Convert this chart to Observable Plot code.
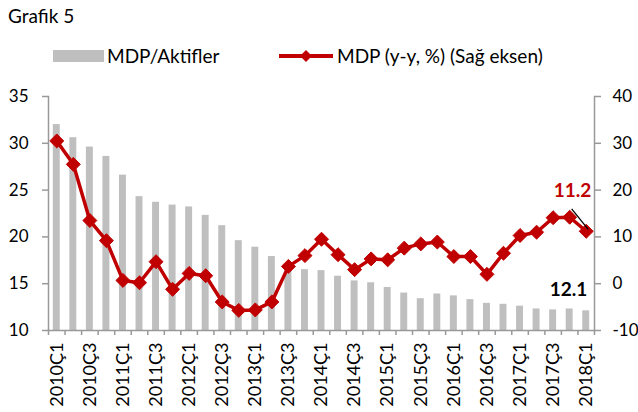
<!DOCTYPE html>
<html>
<head>
<meta charset="utf-8">
<script src="https://cdn.jsdelivr.net/npm/d3@7"></script>
<script src="https://cdn.jsdelivr.net/npm/@observablehq/plot@0.6"></script>
<style>
  body { margin: 0; background: #fff; font-family: Lato, "Open Sans", sans-serif; color: #000; }
  #wrap { position: relative; width: 638px; height: 412px; overflow: hidden; background: #fff; }
  #title { position: absolute; left: 8px; top: 4px; font-size: 19px; line-height: 24px; }
  #legend { position: absolute; left: 0; top: 44px; width: 638px; height: 26px; font-size: 19px; }
  .sw { position: absolute; }
  .lt { position: absolute; top: 0; line-height: 24px; white-space: nowrap; }
  #chart { position: absolute; left: 0; top: 76px; }
</style>
</head>
<body>
<div id="wrap">
  <div id="title">Grafik 5</div>
  <div id="legend"></div>
  <div id="chart"></div>
</div>
<script>
// ---- data ----
const quarters = [
  "2010Ç1","2010Ç2","2010Ç3","2010Ç4",
  "2011Ç1","2011Ç2","2011Ç3","2011Ç4",
  "2012Ç1","2012Ç2","2012Ç3","2012Ç4",
  "2013Ç1","2013Ç2","2013Ç3","2013Ç4",
  "2014Ç1","2014Ç2","2014Ç3","2014Ç4",
  "2015Ç1","2015Ç2","2015Ç3","2015Ç4",
  "2016Ç1","2016Ç2","2016Ç3","2016Ç4",
  "2017Ç1","2017Ç2","2017Ç3","2017Ç4",
  "2018Ç1"
];
// MDP/Aktifler (left axis)
const ratio = [
  32.0, 30.6, 29.6, 28.6,
  26.6, 24.3, 23.7, 23.4,
  23.2, 22.3, 21.2, 19.6,
  18.9, 17.9, 17.0, 16.5,
  16.4, 15.8, 15.3, 15.1,
  14.6, 14.0, 13.4, 13.9,
  13.7, 13.3, 12.9, 12.8,
  12.6, 12.3, 12.2, 12.3,
  12.1
];
// MDP (y-y, %) (right axis)
const growth = [
  30.5, 25.5, 13.5, 9.2,
  0.7, 0.2, 4.7, -1.2,
  2.2, 1.7, -3.9, -5.7,
  -5.6, -3.9, 3.7, 6.0,
  9.5, 6.2, 3.0, 5.3,
  5.1, 7.6, 8.5, 8.9,
  5.8, 5.8, 2.0, 6.5,
  10.3, 11.0, 14.1, 14.2,
  11.2
];
const leftTicks = [10, 15, 20, 25, 30, 35];
const rightTicks = [-10, 0, 10, 20, 30, 40];
const xLabels = quarters.filter((d, i) => i % 2 === 0);
const seriesNames = ["MDP/Aktifler", "MDP (y-y, %) (Sağ eksen)"];
const lastRatioLabel = "12.1";
const lastGrowthLabel = "11.2";

// ---- colours ----
const barColor = "#BFBFBF";
const lineColor = "#C00000";
const axisColor = "#999999";

// ---- legend (HTML) ----
const legend = document.getElementById("legend");
legend.innerHTML = `
  <div class="sw" style="left:53px;top:6px;width:51px;height:12px;background:${barColor}"></div>
  <div class="lt" style="left:107px">${seriesNames[0]}</div>
  <svg class="sw" style="left:278px;top:4px" width="57" height="16">
    <line x1="1" y1="8" x2="55" y2="8" stroke="${lineColor}" stroke-width="4"/>
    <path d="M28,2 L34,8 L28,14 L22,8 Z" fill="${lineColor}"/>
  </svg>
  <div class="lt" style="left:337px">${seriesNames[1]}</div>`;

// ---- chart ----
const data = quarters.map((q, i) => ({q, ratio: ratio[i], growth: growth[i]}));
const toLeft = v => 15 + v / 2; // right axis [-10,40] -> left axis [10,35]
const W = 638, H = 336, mL = 48, mR = 44;
const step = (W - mL - mR) / quarters.length;
const last = data[data.length - 1];
const prev = data[data.length - 2];

const chart = Plot.plot({
  width: W,
  height: H,
  marginTop: 20,
  marginBottom: 82,
  marginLeft: mL,
  marginRight: mR,
  style: {fontFamily: "Lato, 'Open Sans', sans-serif", fontSize: "17px", color: "#000", background: "#fff", overflow: "visible"},
  x: {domain: quarters, paddingInner: 0.58, paddingOuter: 0.29, round: false, axis: null, label: null},
  y: {domain: [10, 35], axis: null, label: null},
  marks: [
    Plot.barY(data, {x: "q", y1: 10, y2: "ratio", fill: barColor}),
    Plot.frame({anchor: "left", stroke: axisColor, strokeWidth: 1.5}),
    Plot.frame({anchor: "right", stroke: axisColor, strokeWidth: 1.5}),
    Plot.frame({anchor: "bottom", stroke: axisColor, strokeWidth: 1.5}),
    Plot.axisY(leftTicks, {anchor: "left", tickSize: 6, tickPadding: 14, stroke: axisColor, strokeWidth: 1.5, label: null, fontSize: 17}),
    Plot.axisY(rightTicks, {anchor: "right", y: toLeft, tickFormat: d => String(d), tickSize: 6, tickPadding: 12, stroke: axisColor, strokeWidth: 1.5, label: null, fontSize: 17}),
    Plot.axisX(quarters, {anchor: "bottom", tickSize: 5, tickFormat: () => "", dx: -step / 2, stroke: axisColor, strokeWidth: 1.5, label: null}),
    Plot.axisX([quarters[quarters.length - 1]], {anchor: "bottom", tickSize: 5, tickFormat: () => "", dx: step / 2, stroke: axisColor, strokeWidth: 1.5, label: null}),
    Plot.axisX(xLabels, {anchor: "bottom", tickSize: 0, tickPadding: 12, tickRotate: -90, label: null, fontSize: 18}),
    Plot.line(data, {x: "q", y: d => toLeft(d.growth), stroke: lineColor, strokeWidth: 3.5}),
    Plot.dot(data, {x: "q", y: d => toLeft(d.growth), symbol: "diamond2", r: 6.3, fill: lineColor, stroke: lineColor, strokeWidth: 1}),
    Plot.link([{}], {x1: () => prev.q, x2: () => last.q, y1: () => toLeft(16.0), y2: () => toLeft(11.6), dx: 2, stroke: "#000", strokeWidth: 1.3}),
    Plot.text([last], {x: "q", y: d => toLeft(d.growth), text: () => lastGrowthLabel, textAnchor: "end", dx: 5, dy: -40, fill: lineColor, fontWeight: "bold", fontSize: 19}),
    Plot.text([last], {x: "q", y: "ratio", text: () => lastRatioLabel, textAnchor: "end", dx: 1, dy: -21, fill: "#000", fontWeight: "bold", fontSize: 19})
  ]
});
document.getElementById("chart").appendChild(chart);
</script>
</body>
</html>
